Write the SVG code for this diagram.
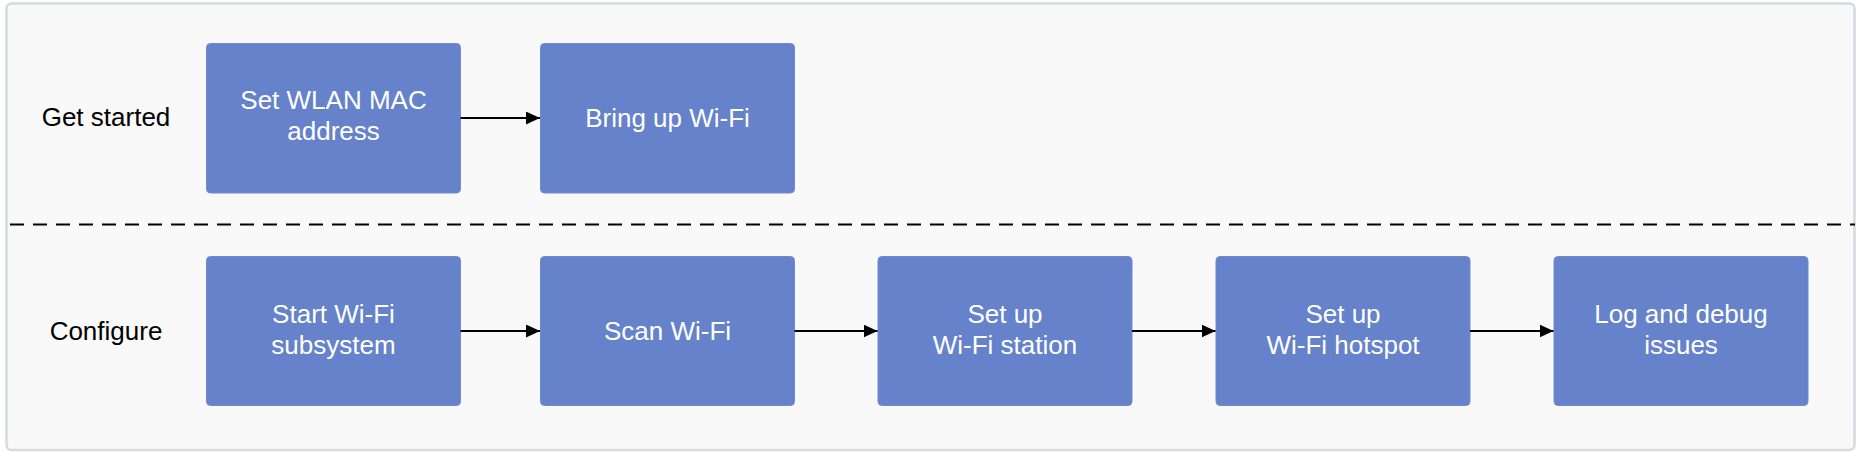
<svg xmlns="http://www.w3.org/2000/svg" width="1863" height="453" viewBox="0 0 1863 453">
<style>
.box{fill:#6582cb;stroke:#6f8ad0;stroke-width:1}
.t{font-family:"Liberation Sans",Arial,sans-serif;font-size:26px;fill:#ffffff;text-anchor:middle}
.lbl{font-family:"Liberation Sans",Arial,sans-serif;font-size:26px;fill:#000000;text-anchor:middle}
.edge{stroke:#000;stroke-width:2.2;fill:none;marker-end:url(#ah)}
</style>
<defs>
<marker id="ah" markerUnits="userSpaceOnUse" markerWidth="14" markerHeight="13" refX="14" refY="6.5" orient="auto">
<path d="M0,0 L14,6.5 L0,13 Z" fill="#000"/>
</marker>
</defs>
<rect width="1863" height="453" fill="#ffffff"/>
<rect id="container" x="6.5" y="3.5" width="1848" height="446.5" rx="5" fill="#f9f9f9" stroke="#d6d9e2" stroke-width="2.5"/>
<line id="divider" x1="10" y1="224.5" x2="1855" y2="224.5" stroke="#000" stroke-width="2.2" stroke-dasharray="14 9"/>
<g id="label-get-started"><text class="lbl" x="106" y="126">Get started</text></g>
<g id="label-configure"><text class="lbl" x="106" y="339.5">Configure</text></g>
<g id="n1"><rect class="box" x="206.5" y="43.5" width="254" height="149.5" rx="4"/><text class="t" x="333.5" y="109">Set WLAN MAC</text><text class="t" x="333.5" y="140">address</text></g>
<g id="n2"><rect class="box" x="540.5" y="43.5" width="254" height="149.5" rx="4"/><text class="t" x="667.5" y="126.5">Bring up Wi-Fi</text></g>
<g id="n3"><rect class="box" x="206.5" y="256.5" width="254" height="149" rx="4"/><text class="t" x="333.5" y="322.5">Start Wi-Fi</text><text class="t" x="333.5" y="353.5">subsystem</text></g>
<g id="n4"><rect class="box" x="540.5" y="256.5" width="254" height="149" rx="4"/><text class="t" x="667.5" y="339.5">Scan Wi-Fi</text></g>
<g id="n5"><rect class="box" x="878" y="256.5" width="254" height="149" rx="4"/><text class="t" x="1005" y="322.5">Set up</text><text class="t" x="1005" y="353.5">Wi-Fi station</text></g>
<g id="n6"><rect class="box" x="1216" y="256.5" width="254" height="149" rx="4"/><text class="t" x="1343" y="322.5">Set up</text><text class="t" x="1343" y="353.5">Wi-Fi hotspot</text></g>
<g id="n7"><rect class="box" x="1554" y="256.5" width="254" height="149" rx="4"/><text class="t" x="1681" y="322.5">Log and debug</text><text class="t" x="1681" y="353.5">issues</text></g>
<g id="connectors">
<line class="edge" x1="460.5" y1="118" x2="540" y2="118"/>
<line class="edge" x1="460.5" y1="331" x2="540" y2="331"/>
<line class="edge" x1="794.5" y1="331" x2="877.5" y2="331"/>
<line class="edge" x1="1132" y1="331" x2="1215.5" y2="331"/>
<line class="edge" x1="1470" y1="331" x2="1553.5" y2="331"/>
</g>
</svg>
